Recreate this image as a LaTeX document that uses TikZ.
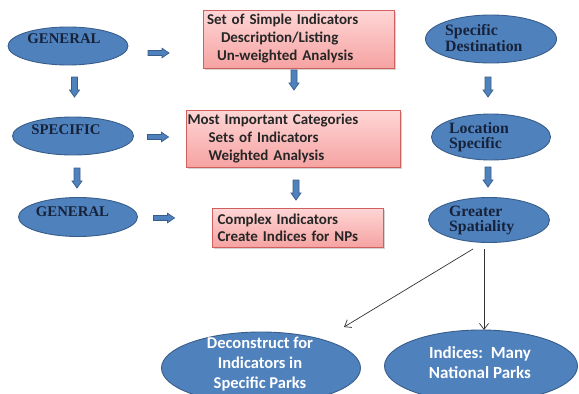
\documentclass[tikz,border=0pt]{standalone}
\usepackage{fontspec}
\usetikzlibrary{shapes.geometric,arrows.meta,shadows}
\newfontfamily\calfont{Carlito}
\newfontfamily\tnrfont{Liberation Serif}
\definecolor{ellfill}{HTML}{4F81BD}
\definecolor{elldraw}{HTML}{385D8A}
\definecolor{navytxt}{HTML}{16223A}
\definecolor{pinktop}{HTML}{FFD6D6}
\definecolor{pinkbot}{HTML}{F5A3A2}
\definecolor{pinkdraw}{HTML}{D0605D}
\tikzset{
  blueell/.style={ellipse, fill=ellfill, draw=elldraw, line width=0.9pt, inner sep=0pt},
  lefttxt/.style={inner sep=0pt, text=navytxt, font=\tnrfont\bfseries\fontsize{14.8}{15}\selectfont},
  righttxt/.style={inner sep=0pt, anchor=west, align=left, text=navytxt, font=\tnrfont\bfseries\fontsize{15.8}{15.5}\selectfont},
  bottxt/.style={inner sep=0pt, align=center, text=white, font=\calfont\bfseries\fontsize{16.5}{20}\selectfont},
  pinkbox/.style={rectangle, top color=pinktop, bottom color=pinkbot, draw=pinkdraw, line width=0.6pt,
    drop shadow={shadow xshift=2pt, shadow yshift=-2pt, opacity=0.35},
    align=left, inner ysep=0pt, text=black!85, font=\calfont\bfseries\fontsize{15}{18}\selectfont},
  blockarr/.style={fill=ellfill, draw=elldraw, line width=0.7pt},
  rarrow/.pic={\filldraw[blockarr] (-10.5,-2.5) -- (3.5,-2.5) -- (3.5,-4.8) -- (10.5,0) -- (3.5,4.8) -- (3.5,2.5) -- (-10.5,2.5) -- cycle;},
  darrow/.pic={\filldraw[blockarr] (-3,-10) -- (3,-10) -- (3,3) -- (5,3) -- (0,10) -- (-5,3) -- (-3,3) -- cycle;},
  thinarr/.style={draw=black!80, line width=0.7pt, -{Straight Barb[length=6pt,width=9pt]}}
}
\begin{document}
\begin{tikzpicture}[x=1pt, y=-1pt]
\useasboundingbox (0,0) rectangle (579,394);
% left ellipses
\node[blueell, minimum width=120pt, minimum height=38pt] (g1) at (68,46) {};
\node[lefttxt] (g1t) at (64,39) {GENERAL};
\node[blueell, minimum width=121pt, minimum height=38pt] (sp) at (73,136) {};
\node[lefttxt] (spt) at (66,129.5) {SPECIFIC};
\node[blueell, minimum width=119pt, minimum height=39pt] (g2) at (78,217) {};
\node[lefttxt] (g2t) at (72.5,212) {GENERAL};
% pink boxes
\node[pinkbox, minimum width=191pt, minimum height=58pt, text width=183pt, inner xsep=4pt] (b1) at (298.5,39)
  {Set of Simple Indicators\\\hspace*{14pt}Description/Listing\\\hspace*{10pt}Un-weighted Analysis};
\node[pinkbox, minimum width=214pt, minimum height=57pt, text width=211pt, inner xsep=1.5pt] (b2) at (293,138.5)
  {Most Important Categories\\\hspace*{21pt}Sets of Indicators\\\hspace*{21pt}Weighted Analysis};
\node[pinkbox, minimum width=171pt, minimum height=39pt, text width=160pt, inner xsep=5.5pt, font=\calfont\bfseries\fontsize{15}{17}\selectfont] (b3) at (297.5,227.5)
  {Complex Indicators\\Create Indices for NPs};
% right ellipses
\node[blueell, minimum width=131pt, minimum height=48pt] (sd) at (491,39) {};
\node[righttxt] (sdt) at (445,38) {Specific\\Destination};
\node[blueell, minimum width=119pt, minimum height=46pt] (ls) at (491,137) {};
\node[righttxt] (lst) at (449,137) {Location\\Specific};
\node[blueell, minimum width=121pt, minimum height=45pt] (gs) at (489,220) {};
\node[righttxt] (gst) at (449,220.5) {Greater\\Spatiality};
% bottom ellipses
\node[blueell, minimum width=199pt, minimum height=72pt] (dc) at (261,368) {};
\node[bottxt] (dct) at (260,364) {Deconstruct for\\Indicators in\\Specific Parks};
\node[blueell, minimum width=193pt, minimum height=72pt] (ix) at (481,366) {};
\node[bottxt, font=\calfont\bfseries\fontsize{17}{20}\selectfont] (ixt) at (480,363) {Indices:\ \ Many\\National Parks};
% block arrows
\pic (r1) at (158.5,53) {rarrow};
\pic (r2) at (158,137) {rarrow};
\pic (r3) at (164,218) {rarrow};
\pic (d1) at (74.5,87) {darrow};
\pic (d2) at (77,178) {darrow};
\pic (d3) at (294,80) {darrow};
\pic (d4) at (296,190) {darrow};
\pic (d5) at (488,87) {darrow};
\pic (d6) at (488,177) {darrow};
% thin arrows
\coordinate (s1) at (473,249);
\coordinate (e1) at (344,327);
\coordinate (s2) at (484,249);
\coordinate (e2) at (484,330);
\draw[thinarr] (s1) -- (e1);
\draw[thinarr] (s2) -- (e2);
\end{tikzpicture}
\end{document}
